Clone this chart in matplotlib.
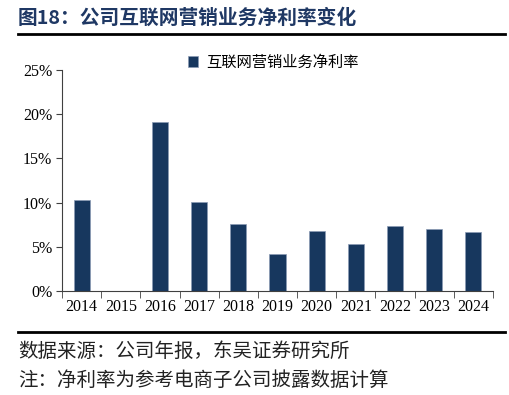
import numpy as np
import matplotlib
matplotlib.use("Agg")
import matplotlib.pyplot as plt
from matplotlib.ticker import FuncFormatter, FixedLocator

plt.rcParams['font.family'] = ['Noto Sans CJK SC', 'DejaVu Sans']

# Données
annees = ["2014", "2015", "2016", "2017", "2018", "2019", "2020", "2021", "2022", "2023", "2024"]
marge_nette = [10.26, np.nan, 19.08, 10.1, 7.54, 4.18, 6.79, 5.32, 7.35, 6.98, 6.64]
legende = "互联网营销业务净利率"
titre = "图18：公司互联网营销业务净利率变化"
source = "数据来源：公司年报，东吴证券研究所"
note = "注：净利率为参考电商子公司披露数据计算"

fig = plt.figure(figsize=(5.1, 3.95), dpi=100)
ax = fig.add_axes([0.1216, 0.2633, 0.845, 0.5595])

x = np.arange(len(annees))
ax.bar(x, marge_nette, width=0.41, color="#17375e", edgecolor="#8a9bb5", linewidth=0.5,
       label=legende)

ax.set_xlim(-0.5, len(annees) - 0.5)
ax.set_ylim(0, 25)
ax.set_yticks([0, 5, 10, 15, 20, 25])
ax.yaxis.set_major_formatter(FuncFormatter(lambda v, p: f"{v:.0f}%"))
ax.set_xticks(x)
ax.set_xticklabels(annees)
ax.xaxis.set_minor_locator(FixedLocator(np.arange(-0.5, len(annees), 1.0)))
ax.tick_params(axis="x", which="major", length=0, pad=6)
ax.tick_params(axis="x", which="minor", length=5, direction="out", color="#404040")
ax.tick_params(axis="y", length=4, direction="out", color="#404040", pad=3)
for lab in ax.get_xticklabels() + ax.get_yticklabels():
    lab.set_fontfamily("Liberation Serif")
    lab.set_fontsize(11.5)
ax.spines["top"].set_visible(False)
ax.spines["right"].set_visible(False)
ax.spines["left"].set_color("#404040")
ax.spines["bottom"].set_color("#404040")

ax.legend(loc="upper center", bbox_to_anchor=(0.49, 1.135), frameon=False, fontsize=11,
          handlelength=0.7, handleheight=0.7, handletextpad=0.5)

# Titre et lignes
fig.text(0.035, 0.955, titre, fontsize=14.2, fontweight="bold", color="#1f3864", va="center")
fig.add_artist(plt.Line2D([0.035, 0.99], [0.915, 0.915], color="black", lw=2))
fig.add_artist(plt.Line2D([0.035, 0.99], [0.16, 0.16], color="black", lw=2))
fig.text(0.035, 0.11, source, fontsize=14, color="#222222", va="center")
fig.text(0.035, 0.037, note, fontsize=14, color="#222222", va="center")

fig.savefig("out.png", dpi=100)
